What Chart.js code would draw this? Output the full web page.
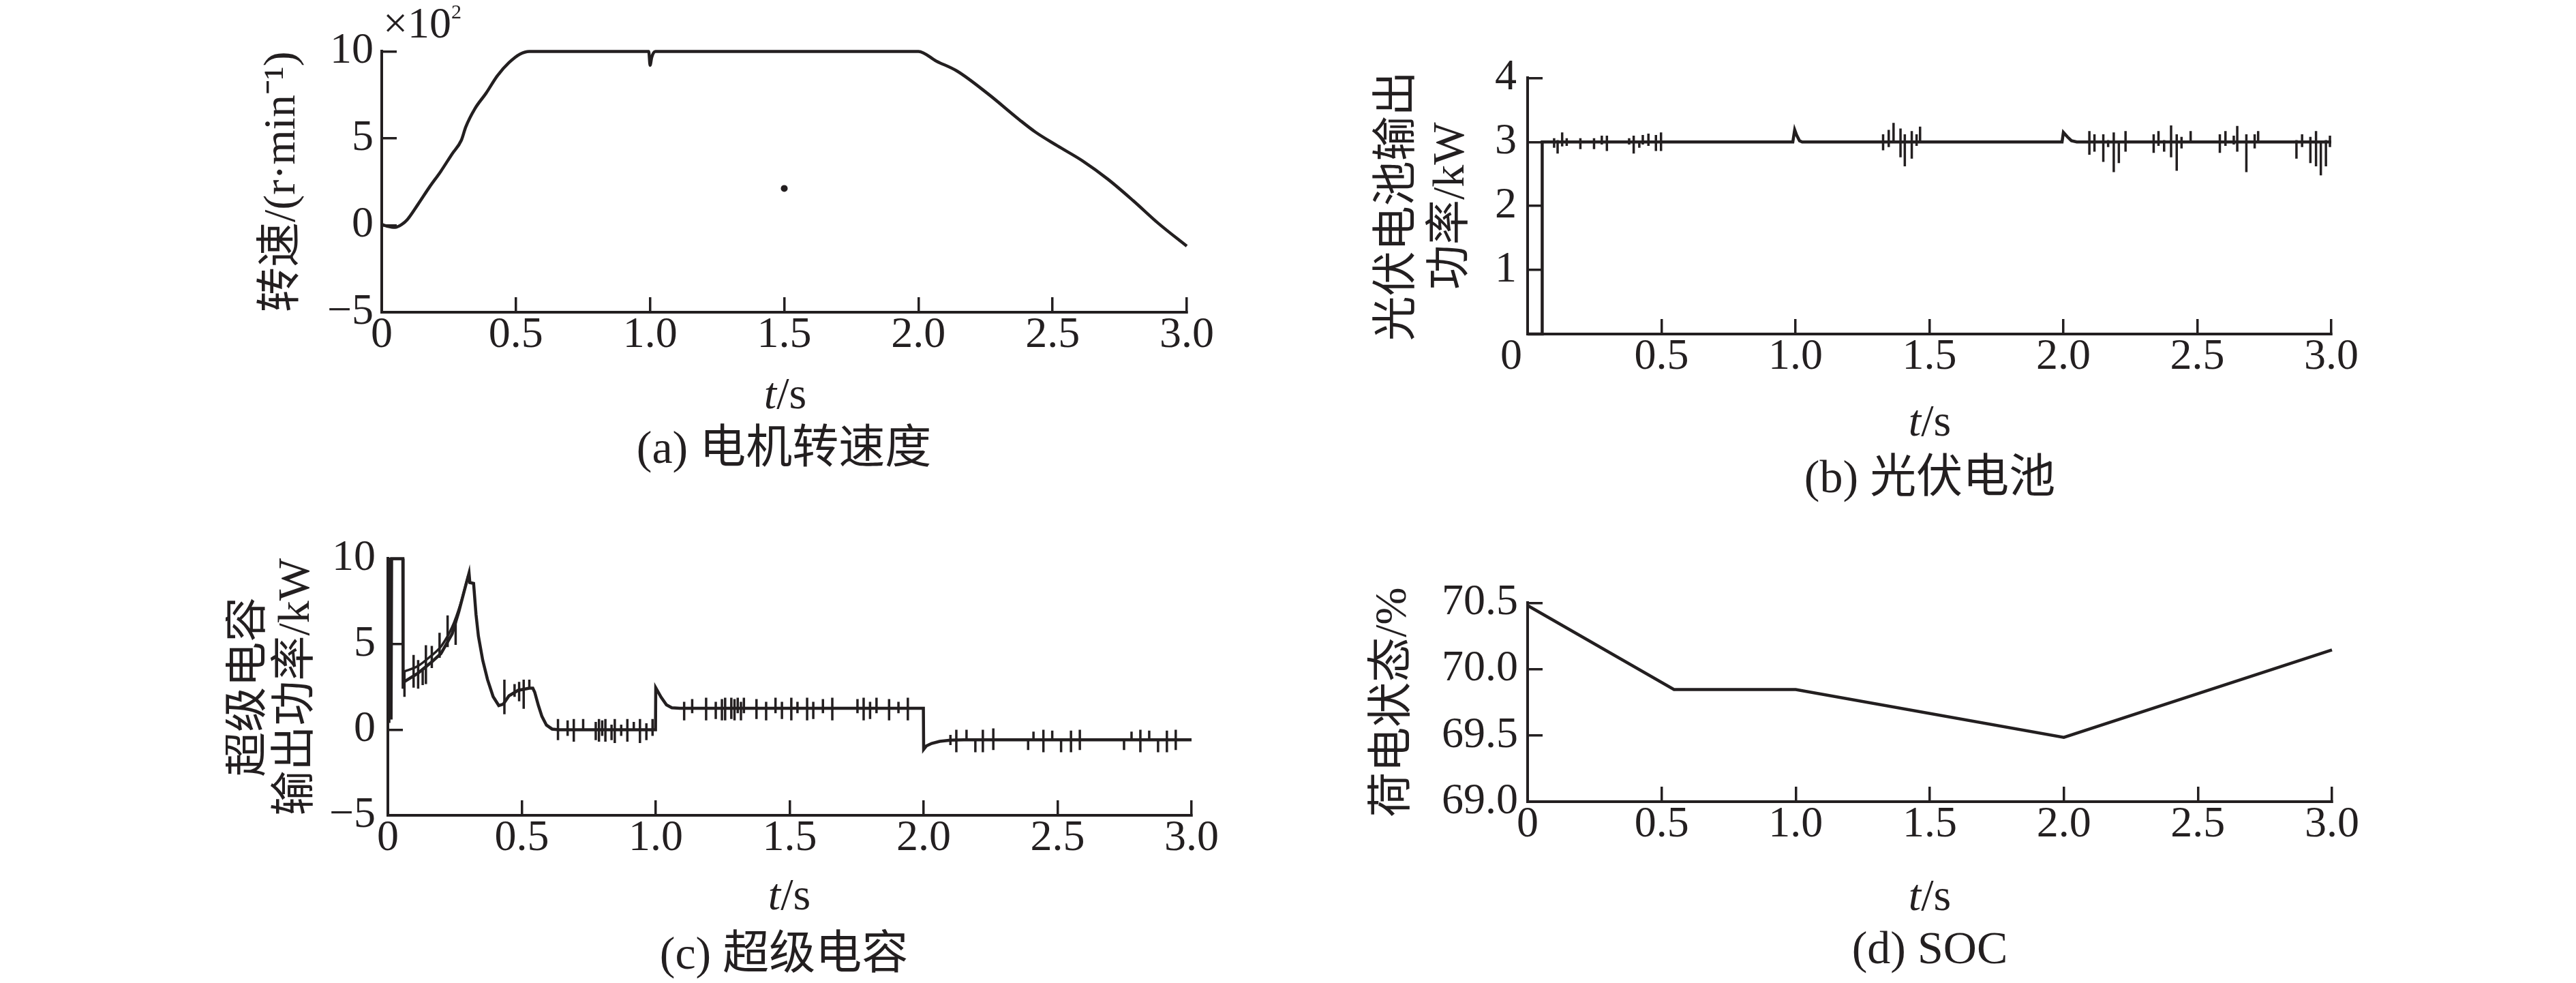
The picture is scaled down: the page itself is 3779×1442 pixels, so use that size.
<!DOCTYPE html>
<html>
<head>
<meta charset="utf-8">
<script src="https://cdn.jsdelivr.net/npm/chart.js@4.4.1/dist/chart.umd.min.js"></script>
<style>
html,body{margin:0;padding:0;background:#fff;}
body{width:3779px;height:1442px;position:relative;overflow:hidden;font-family:"Liberation Serif","Noto Sans CJK SC",serif;color:#231f20;}
canvas{position:absolute;}
.lbl{position:absolute;white-space:nowrap;transform:translate(-50%,-50%);line-height:1;}
.xt{font-size:66px;}
.cap{font-size:68px;}
</style>
</head>
<body>
<canvas id="cA" width="1426" height="555" style="left:375px;top:3px"></canvas>
<canvas id="cB" width="1467" height="552" style="left:2013px;top:38px"></canvas>
<canvas id="cC" width="1477" height="555" style="left:331px;top:741px"></canvas>
<canvas id="cD" width="1476" height="466" style="left:2005px;top:810px"></canvas>

<div style="position:absolute;left:562px;top:2px;font-size:64px;line-height:64px;white-space:nowrap">×10<span style="font-size:30px;position:relative;top:-28px">2</span></div>

<div class="lbl xt" style="left:1152px;top:577px"><i>t</i>/s</div>
<div class="lbl cap" style="left:1150px;top:656px">(a) 电机转速度</div>
<div class="lbl xt" style="left:2831px;top:617px"><i>t</i>/s</div>
<div class="lbl cap" style="left:2831px;top:699px">(b) 光伏电池</div>
<div class="lbl xt" style="left:1158px;top:1312px"><i>t</i>/s</div>
<div class="lbl cap" style="left:1150px;top:1398px">(c) 超级电容</div>
<div class="lbl xt" style="left:2831px;top:1313px"><i>t</i>/s</div>
<div class="lbl cap" style="left:2831px;top:1390px">(d) SOC</div>

<script>
const INK = '#231f20';
const SERIF = '"Liberation Serif","Noto Sans CJK SC",serif';

// shared time axis labels
const xTickLabels = ['0', '0.5', '1.0', '1.5', '2.0', '2.5', '3.0'];
const xTickLabelsB = ['0   ', '0.5', '1.0', '1.5', '2.0', '2.5', '3.0'];

// (a) motor speed, x10^2 r/min
const speedT = [0, 0.02, 0.05, 0.075, 0.094, 0.135, 0.178, 0.22, 0.262, 0.297, 0.313, 0.347, 0.389, 0.431, 0.474, 0.516, 0.55, 0.6,
  0.995, 1.0, 1.006, 1.013, 1.02, 2.0, 2.067, 2.145, 2.26, 2.377, 2.436, 2.518, 2.612, 2.706, 2.8, 2.894, 3.0];
const speedV = [0.05, -0.05, -0.12, 0.05, 0.3, 1.2, 2.2, 3.1, 4.1, 4.9, 5.65, 6.7, 7.6, 8.6, 9.35, 9.85, 10, 10,
  10, 9.2, 9.65, 9.92, 10, 10, 9.44, 8.86, 7.55, 6.06, 5.36, 4.57, 3.7, 2.65, 1.42, 0.11, -1.2];
const speedDotT = [1.5];
const speedDotV = [2.12];
const speedTicks = ['−5', '0', '5', '10'];

// (b) PV output power, kW
const pvT = [0, 0.054, 0.0545, 0.99, 0.997, 1.005, 1.015, 1.025, 1.995, 2.0, 2.015, 2.03, 2.05, 3.0];
const pvV = [0, 0, 3, 3, 3.19, 3.1, 3.02, 3, 3, 3.15, 3.08, 3.02, 3, 3];
const pvSpikeT = [0.099, 0.112, 0.129, 0.146, 0.197, 0.248, 0.277, 0.296, 0.379, 0.396, 0.417, 0.430, 0.451, 0.479, 0.498,
  1.327, 1.348, 1.366, 1.392, 1.408, 1.434, 1.452, 1.465,
  2.097, 2.116, 2.149, 2.167, 2.188, 2.207, 2.232,
  2.337, 2.355, 2.376, 2.402, 2.423, 2.441, 2.475,
  2.584, 2.605, 2.636, 2.649, 2.683, 2.714, 2.727,
  2.870, 2.891, 2.922, 2.943, 2.961, 2.980, 2.995];
const pvSpikeHi = [3.06, 3.03, 3.15, 3.06, 3.06, 3.06, 3.10, 3.10, 3.06, 3.10, 3.01, 3.11, 3.13, 3.11, 3.15,
  3.12, 3.19, 3.30, 3.21, 3.12, 3.17, 3.12, 3.24,
  3.17, 3.12, 3.12, 3.03, 3.15, 3.0, 3.17,
  3.12, 3.17, 3.03, 3.26, 3.12, 3.08, 3.17,
  3.12, 3.17, 3.10, 3.25, 3.12, 3.12, 3.17,
  3.03, 3.12, 3.08, 3.17, 3.0, 3.03, 3.10];
const pvSpikeLo = [2.91, 2.82, 2.93, 2.94, 2.89, 2.89, 2.96, 2.86, 2.96, 2.82, 2.91, 2.96, 2.94, 2.86, 2.86,
  2.87, 2.92, 3.0, 2.76, 2.62, 2.74, 2.94, 3.0,
  2.80, 2.85, 2.69, 2.92, 2.53, 2.67, 2.85,
  2.83, 2.94, 2.85, 2.76, 2.55, 2.90, 3.0,
  2.83, 2.94, 2.96, 2.85, 2.53, 2.90, 3.0,
  2.74, 2.92, 2.67, 2.62, 2.48, 2.62, 2.92];
const pvTicks = ['', '1', '2', '3', '4'];

// (c) supercapacitor output power, kW
const capT = [0, 0.002, 0.004, 0.006, 0.008, 0.010, 0.012, 0.014, 0.056, 0.057, 0.061, 0.112, 0.163, 0.198, 0.24, 0.265, 0.29, 0.303,
  0.306, 0.32, 0.329, 0.338, 0.354, 0.372, 0.393, 0.414, 0.431, 0.452, 0.486, 0.528, 0.541, 0.548, 0.562, 0.575, 0.592, 0.613, 0.638,
  0.999, 1.0, 1.02, 1.04, 1.06, 1.09, 1.999, 2.0, 2.01, 2.03, 2.06, 2.1, 2.15, 3.0];
const capV = [1.2, 10, 0.4, 10, 0.9, 10, 0.6, 10, 10, 2.4, 2.8, 3.3, 3.95, 4.45, 5.6, 6.9, 8.4, 9.15,
  8.6, 8.55, 6.74, 5.47, 4.07, 2.93, 1.93, 1.41, 1.5, 1.98, 2.3, 2.43, 2.43, 2.2, 1.41, 0.78, 0.27, 0.04, 0,
  0, 2.45, 1.9, 1.45, 1.28, 1.25, 1.25, -1.15, -0.95, -0.8, -0.68, -0.61, -0.59, -0.59];
const capUpT = [0.06, 0.11, 0.16, 0.2, 0.24, 0.27, 0.3];
const capUpV = [3.4, 3.7, 4.3, 4.9, 6.0, 7.3, 9.0];
const capSpikeT = [0.062, 0.096, 0.113, 0.130, 0.142, 0.164, 0.193, 0.223, 0.253,
  0.435, 0.473, 0.49, 0.507, 0.528,
  0.635, 0.671, 0.694, 0.729, 0.776, 0.788, 0.8, 0.812, 0.835, 0.847, 0.871, 0.894, 0.918, 0.941, 0.965, 0.988,
  1.106, 1.136, 1.188, 1.224, 1.247, 1.259, 1.282, 1.294, 1.306, 1.318, 1.329, 1.376, 1.412, 1.447, 1.471, 1.506, 1.529, 1.565, 1.588, 1.624, 1.659, 1.753, 1.776, 1.8, 1.824, 1.871, 1.906, 1.941,
  2.10, 2.122, 2.160, 2.193, 2.221, 2.260, 2.390, 2.410, 2.447, 2.480, 2.513, 2.550, 2.583, 2.748, 2.776, 2.809, 2.842, 2.875, 2.908, 2.941];
const capSpikeHi = [3.44, 4.37, 4.07, 3.56, 4.94, 4.9, 5.66, 6.68, 6.49,
  2.93, 2.67, 2.8, 2.93, 2.93,
  0.63, 0.55, 0.63, 0.63, 0.46, 0.63, 0.55, 0.63, 0.3, 0.63, 0.3, 0.63, 0.46, 0.63, 0.38, 0.63,
  1.63, 1.79, 1.87, 1.63, 1.79, 1.87, 1.87, 1.79, 1.87, 1.63, 1.87, 1.79, 1.63, 1.87, 1.63, 1.87, 1.63, 1.87, 1.63, 1.79, 1.87, 1.79, 1.87, 1.63, 1.87, 1.79, 1.63, 1.87,
  -0.3, 0.0, 0.0, -0.59, 0.0, 0.08, -0.59, -0.11, 0.0, -0.05, -0.59, -0.05, 0.0, -0.59, -0.11, 0.0, -0.05, -0.59, -0.05, 0.0];
const capSpikeLo = [1.92, 2.46, 2.40, 2.61, 2.67, 3.6, 4.2, 4.83, 4.96,
  0.9, 1.92, 1.66, 1.22, 2.42,
  -0.61, -0.36, -0.7, 0, -0.61, -0.7, -0.36, -0.7, -0.61, -0.78, -0.36, -0.7, 0, -0.78, -0.61, -0.36,
  0.55, 0.96, 0.55, 0.63, 0.55, 0.55, 0.63, 0.55, 0.96, 0.55, 0.96, 0.63, 0.55, 0.96, 0.63, 0.55, 0.96, 0.55, 0.63, 0.96, 0.55, 0.96, 0.55, 0.63, 0.96, 0.55, 0.96, 0.55,
  -0.9, -1.32, -0.59, -1.32, -1.32, -1.19, -1.19, -0.56, -1.32, -0.59, -1.32, -1.32, -1.19, -1.19, -0.56, -1.32, -0.59, -1.32, -1.32, -1.19];
const capTicks = ['−5', '0', '5', '10'];

// (d) SOC, %
const socT = [0, 0.546, 1.0, 2.0, 3.0];
const socV = [70.48, 69.846, 69.846, 69.485, 70.145];
const socTicks = ['69.0', '69.5', '70.0', '70.5'];

Chart.defaults.font.family = SERIF;
Chart.defaults.color = INK;

const pts = (t, v) => t.map((x, i) => ({x, y: v[i]}));
const spikes = (t, hi, lo) => t.flatMap((x, i) => [{x, y: hi[i]}, {x, y: lo[i]}, {x, y: null}]);
const line = (data, w, extra) => Object.assign({data, borderColor: INK, borderWidth: w, pointRadius: 0, fill: false, clip: false}, extra || {});

function xAxis(labels){
  return {
    type: 'linear', min: 0, max: 3,
    border: {color: INK, width: 4},
    grid: {drawOnChartArea: false, color: INK, lineWidth: 3.5, tickLength: -22},
    ticks: {stepSize: 0.5, padding: 18, autoSkip: false, maxRotation: 0, color: INK, font: {size: 64},
      callback: (v, i) => labels[i]},
    afterFit: s => { s.height = 100; }
  };
}

function yAxis(min, max, step, labels, gap, title, lh, w){
  return {
    type: 'linear', min, max,
    border: {color: INK, width: 4},
    grid: {drawOnChartArea: false, color: INK, lineWidth: 3.5, tickLength: -22},
    ticks: {stepSize: step, padding: 22 + gap, autoSkip: false, color: INK, font: {size: 64},
      callback: (v, i) => labels[i]},
    title: {display: true, text: title, color: INK, padding: 0, font: {size: 66, lineHeight: lh + 'px'}},
    afterFit: s => { s.width = w; }
  };
}

function panel(id, datasets, xLabels, y){
  return new Chart(document.getElementById(id), {
    type: 'line',
    data: {datasets},
    options: {
      responsive: false, animation: false, devicePixelRatio: 1,
      layout: {padding: {top: 60, right: 60, left: 0, bottom: 0}},
      plugins: {legend: {display: false}, tooltip: {enabled: false}},
      scales: {x: xAxis(xLabels), y}
    }
  });
}

panel('cA', [
  line(pts(speedT, speedV), 4.5, {cubicInterpolationMode: 'monotone'}),
  line(pts(speedDotT, speedDotV), 0, {showLine: false, pointRadius: 5, pointBackgroundColor: INK, pointBorderWidth: 0})
], xTickLabels, yAxis(-5, 10, 5, speedTicks, 12, '转速/(r·min⁻¹)', 79, 185));

panel('cB', [
  line(pts(pvT, pvV), 4.5),
  line(spikes(pvSpikeT, pvSpikeHi, pvSpikeLo), 3.5)
], xTickLabelsB, yAxis(0, 4, 1, pvTicks, 16, ['光伏电池输出', '功率/kW'], 78, 228));

panel('cC', [
  line(pts(capT, capV), 4.5),
  line(pts(capUpT, capUpV), 3.5, {cubicInterpolationMode: 'monotone'}),
  line(spikes(capSpikeT, capSpikeHi, capSpikeLo), 3.5)
], xTickLabels, yAxis(-5, 10, 5, capTicks, 18, ['超级电容', '输出功率/kW'], 70, 238));

panel('cD', [
  line(pts(socT, socV), 4.5)
], xTickLabels, yAxis(69, 70.5, 0.5, socTicks, 14, '荷电状态/%', 79, 236));
</script>
</body>
</html>
